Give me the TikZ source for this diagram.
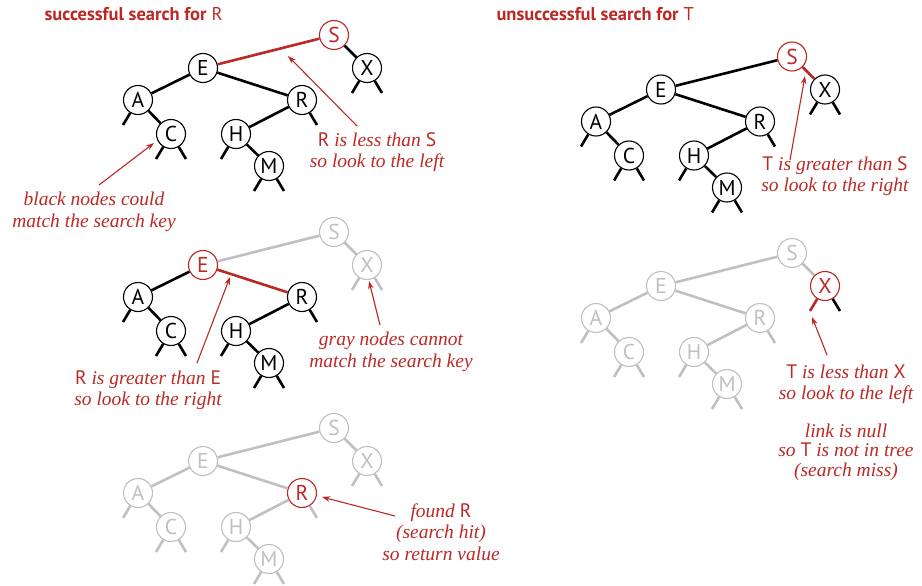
\documentclass[tikz,border=0pt]{standalone}
\usepackage{fontspec}
\setmainfont{Liberation Serif}
\setsansfont{PT Sans}
\usetikzlibrary{arrows.meta}
\definecolor{searchred}{RGB}{188,40,36}
\definecolor{treegray}{RGB}{192,192,194}
\newcommand{\kname}[1]{{\sffamily\upshape #1}}
% one copy of the tree, node names get the prefix #1
\newcommand{\bsttree}[1]{%
\node[key, kS] (#1S) at (334,35) {S};
\node[key, kE] (#1E) at (203,68) {E};
\node[key, kX] (#1X) at (367,68) {X};
\node[key] (#1A) at (138,100) {A};
\node[key, kR] (#1R) at (302,100) {R};
\node[key] (#1C) at (171,134) {C};
\node[key] (#1H) at (236,134) {H};
\node[key] (#1M) at (269,166) {M};
\coordinate (#1Xl) at (352,93);
\coordinate (#1Xr) at (382,93);
\coordinate (#1Al) at (123,125);
\coordinate (#1Cl) at (156,159);
\coordinate (#1Cr) at (186,159);
\coordinate (#1Rr) at (317,125);
\coordinate (#1Hl) at (221,159);
\coordinate (#1Ml) at (254,191);
\coordinate (#1Mr) at (284,191);
\draw[link, lSE] (#1S) -- (#1E);
\draw[link, lSX] (#1S) -- (#1X);
\draw[link] (#1E) -- (#1A);
\draw[link, lER] (#1E) -- (#1R);
\draw[link] (#1A) -- (#1C);
\draw[link] (#1R) -- (#1H);
\draw[link] (#1H) -- (#1M);
\draw[link, zXl] (#1X) -- (#1Xl);
\draw[link, zXr] (#1X) -- (#1Xr);
\draw[link] (#1A) -- (#1Al);
\draw[link] (#1C) -- (#1Cl);
\draw[link] (#1C) -- (#1Cr);
\draw[link] (#1R) -- (#1Rr);
\draw[link] (#1H) -- (#1Hl);
\draw[link] (#1M) -- (#1Ml);
\draw[link] (#1M) -- (#1Mr);}

\begin{document}
\begin{tikzpicture}[x=1pt, y=-1pt,
key/.style={circle, draw, fill=white, line width=1.1pt, inner sep=0pt, minimum size=29pt, font=\sffamily\fontsize{21.5}{21.5}\selectfont},
hitkey/.style={draw=searchred, text=searchred},
dimkey/.style={draw=treegray, text=treegray},
link/.style={line width=2.6pt},
note/.style={text=searchred, align=center, font=\itshape\fontsize{19.5}{21.5}\selectfont},
heading/.style={text=searchred, anchor=west, font=\sffamily\fontsize{18.5}{20}\selectfont},
pointer/.style={-{Stealth[length=8pt, width=5.5pt]}, searchred, line width=1.1pt},
kS/.style={}, kE/.style={}, kX/.style={}, kR/.style={},
lSE/.style={}, lSX/.style={}, lER/.style={}, zXl/.style={}, zXr/.style={}]
\useasboundingbox (0,0) rectangle (922,586);

\node[heading] (titlehit) at (41,14) {\textbf{successful search for} R};
\node[heading] (titlemiss) at (493,14) {\textbf{unsuccessful search for} T};

% successful search: S, then E, then R
\begin{scope}[black, kS/.style={hitkey}, lSE/.style={searchred}]
\bsttree{a}
\end{scope}
\begin{scope}[yshift=-197pt, black, kS/.style={dimkey}, kX/.style={dimkey}, lSE/.style={treegray},
  lSX/.style={treegray}, zXl/.style={treegray}, zXr/.style={treegray}, kE/.style={hitkey}, lER/.style={searchred}]
\bsttree{b}
\end{scope}
\begin{scope}[yshift=-393pt, treegray, kR/.style={hitkey}]
\bsttree{c}
\end{scope}

% unsuccessful search: S, then X, then null
\begin{scope}[xshift=458pt, yshift=-21.5pt, black, kS/.style={hitkey}, lSX/.style={searchred}]
\bsttree{d}
\end{scope}
\begin{scope}[xshift=458pt, yshift=-218pt, treegray, kX/.style={hitkey}, zXl/.style={searchred}, zXr/.style={black}]
\bsttree{e}
\end{scope}

\node[note] (lessS) at (377,152) {\kname{R} is less than \kname{S}\\so look to the left};
\node[note] (blacknote) at (94,212) {black nodes could\\match the search key};
\node[note] (greaterE) at (148,390) {\kname{R} is greater than \kname{E}\\so look to the right};
\node[note] (graynote) at (391,352) {gray nodes cannot\\match the search key};
\node[note] (foundR) at (441,532) {found \kname{R}\\(search hit)\\so return value};
\node[note] (greaterS) at (835,176) {\kname{T} is greater than \kname{S}\\so look to the right};
\node[note] (lessX) at (846,384) {\kname{T} is less than \kname{X}\\so look to the left};
\node[note, font=\itshape\fontsize{19.5}{19.5}\selectfont] (nulllink) at (846,452) {link is null\\so \kname{T} is not in tree\\(search miss)};

\coordinate (tailS) at (357,126);
\coordinate (tipS) at (288,56);
\coordinate (tailC) at (99,185);
\coordinate (tipC) at (154,143);
\coordinate (tailE) at (197,363);
\coordinate (tipE) at (230,277);
\coordinate (tailX) at (380,325);
\coordinate (tipX) at (369,281);
\coordinate (tailR) at (395,516);
\coordinate (tipR) at (322,497);
\coordinate (tailSX) at (790,160);
\coordinate (tipSX) at (805,76);
\coordinate (tailnull) at (827,355);
\coordinate (tipnull) at (812,317);
\draw[pointer] (tailS) -- (tipS);
\draw[pointer] (tailC) -- (tipC);
\draw[pointer] (tailE) -- (tipE);
\draw[pointer] (tailX) -- (tipX);
\draw[pointer] (tailR) -- (tipR);
\draw[pointer] (tailSX) -- (tipSX);
\draw[pointer] (tailnull) -- (tipnull);
\end{tikzpicture}
\end{document}
